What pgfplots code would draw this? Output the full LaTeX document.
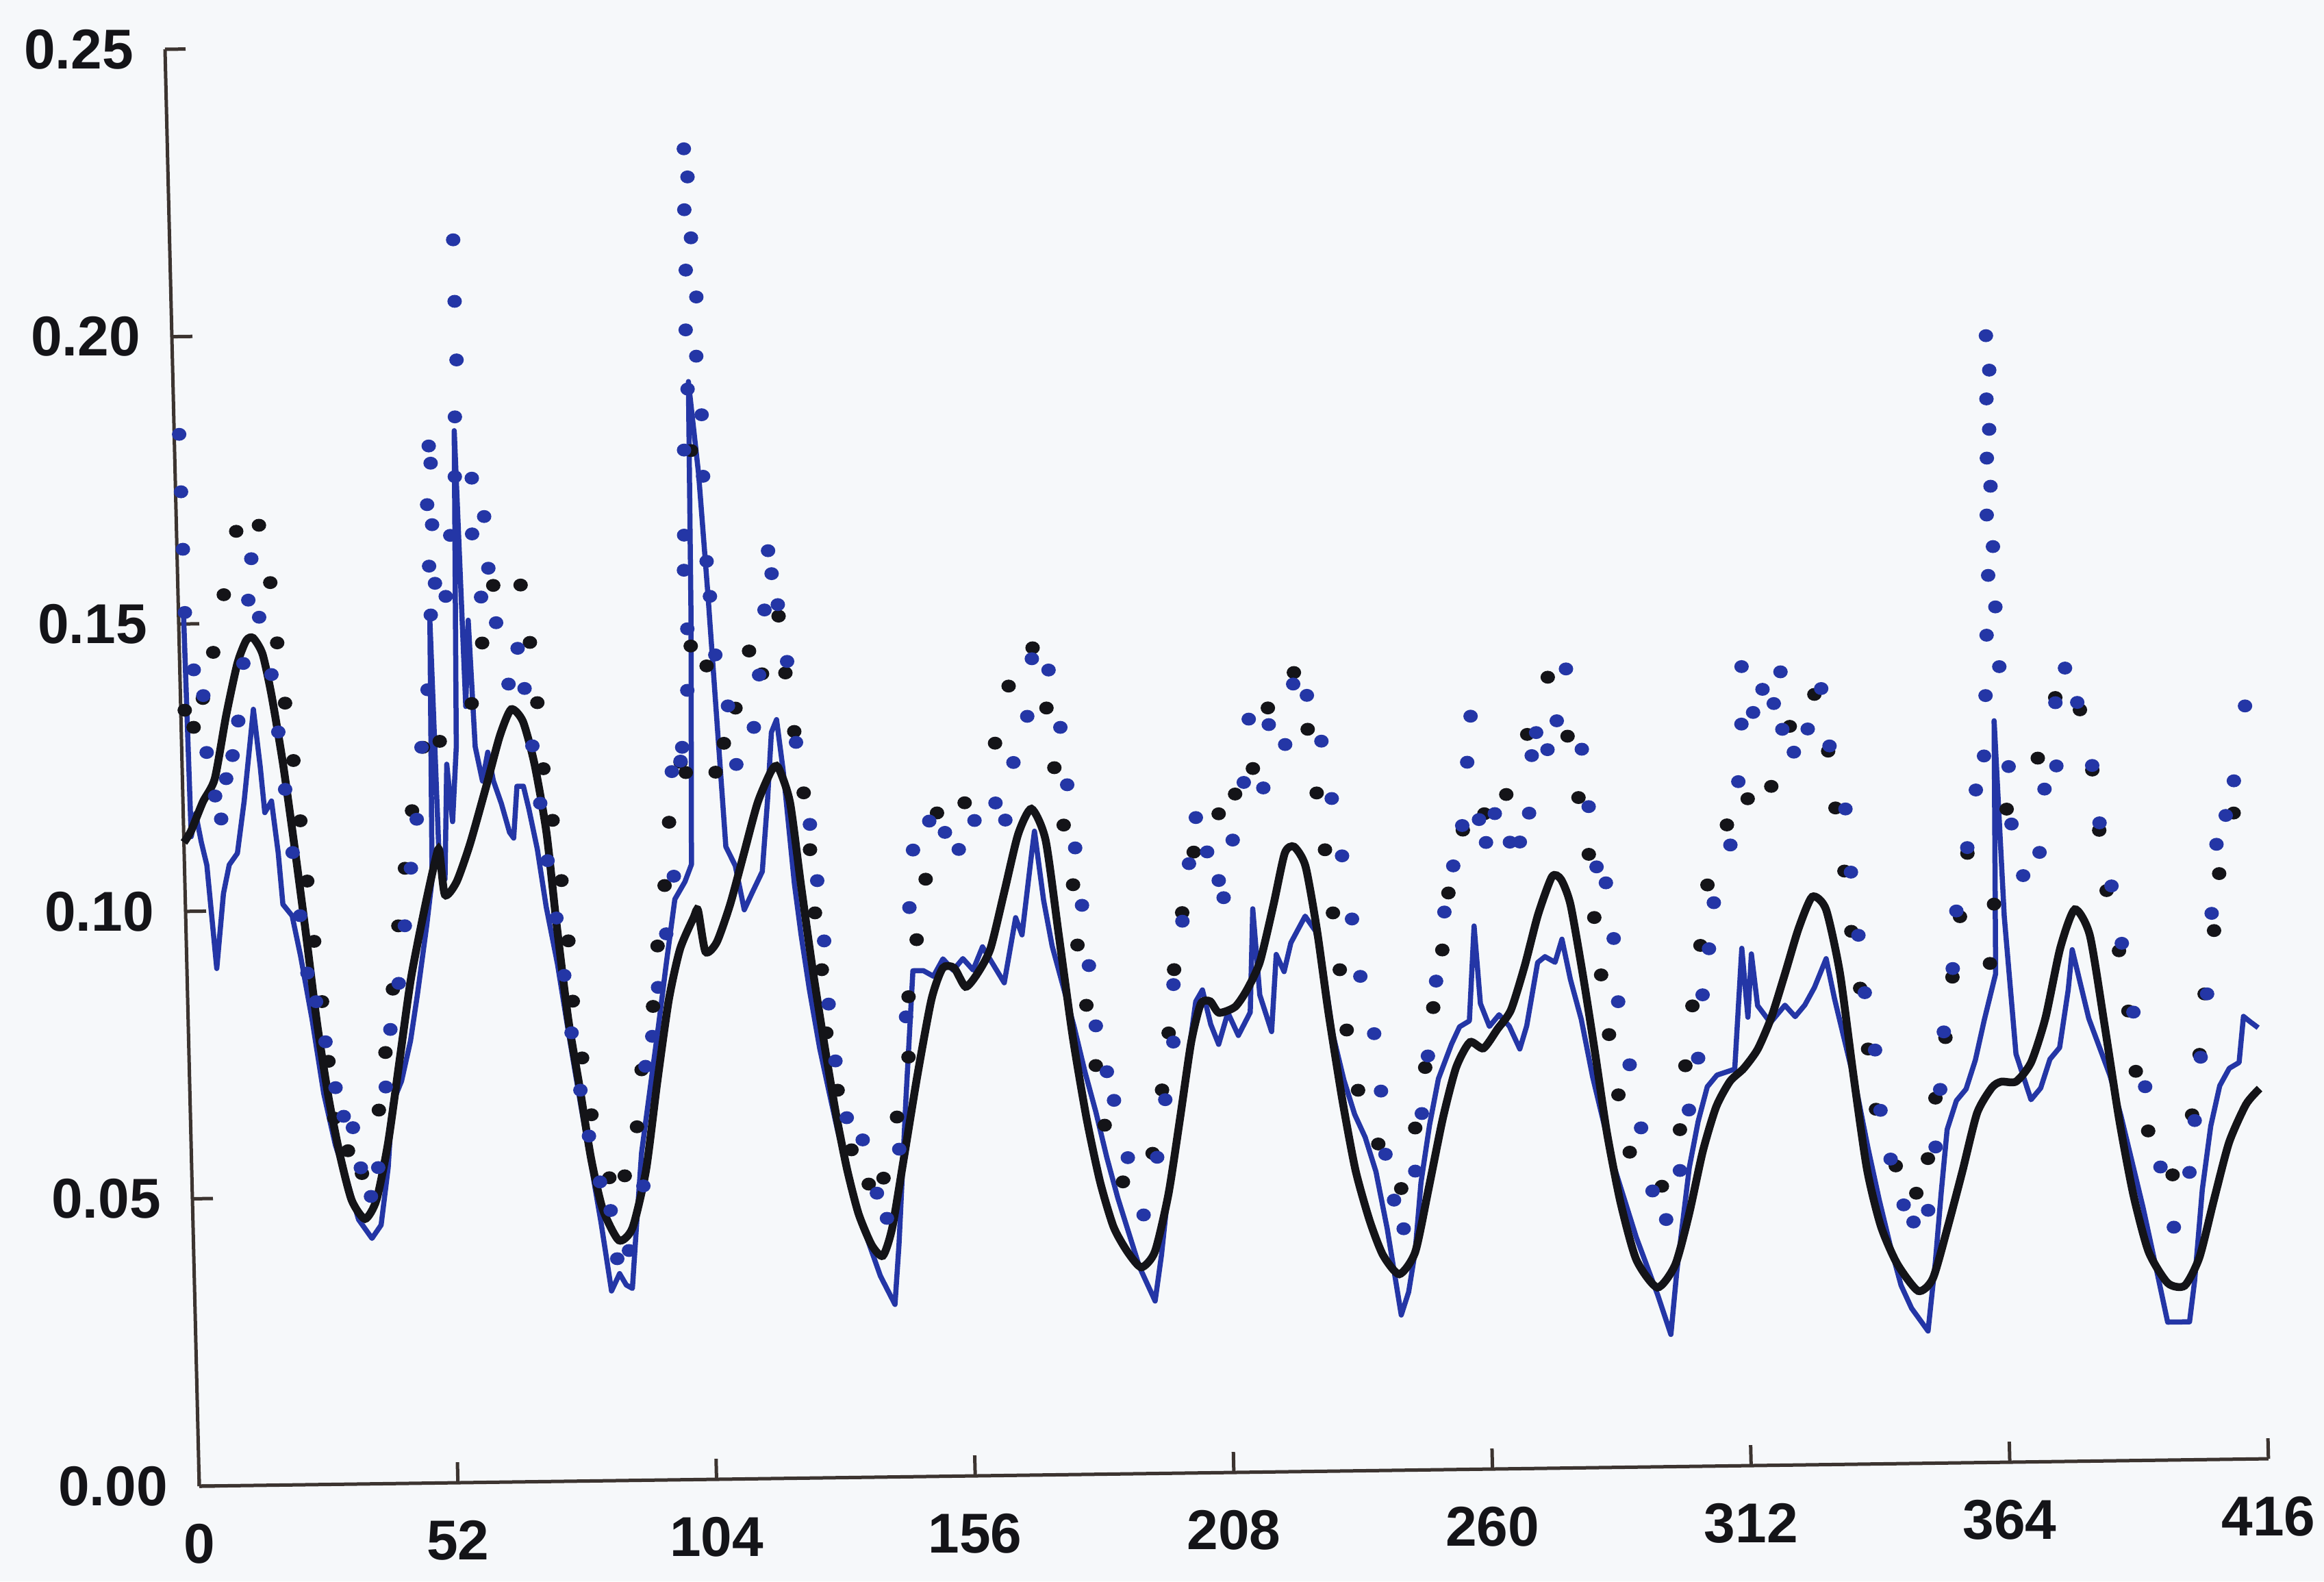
\documentclass[border=0pt]{standalone}
\usepackage{fontspec}
\setmainfont{Liberation Sans}
\usepackage{pgfplots}
\pgfplotsset{compat=1.18}
\usetikzlibrary{backgrounds}
\definecolor{bgc}{RGB}{246,248,250}
\definecolor{axc}{RGB}{60,52,48}
\definecolor{blc}{RGB}{36,54,166}
\definecolor{bkc}{RGB}{20,20,24}
\begin{document}
\begin{tikzpicture}
\begin{axis}[
  x={(0.7264pt,0.00962pt)}, y={(-20pt,839.2pt)},
  xmin=0, xmax=416, ymin=0, ymax=0.25,
  axis x line=bottom, axis y line=left,
  axis line style={-, draw=axc, line width=0.5pt},
  every outer x axis line/.append style={-},
  every outer y axis line/.append style={-},
  tick style={draw=axc, line width=0.5pt},
  tick align=inside, major tick length=3pt,
  xtick={0,52,104,156,208,260,312,364,416},
  ytick={0,0.05,0.1,0.15,0.2,0.25},
  scaled y ticks=false,
  /pgf/number format/assume math mode=true,
  ticklabel style={font=\bfseries\fontsize{8.2}{9}\selectfont, text=bkc},
  xticklabel style={anchor=north, yshift=-2pt},
  yticklabel style={anchor=east, xshift=-1.1pt, /pgf/number format/fixed, /pgf/number format/fixed zerofill, /pgf/number format/precision=2},
  clip=false,
]
\coordinate (O) at (axis cs:0,0);
% black dotted series (dots)
\addplot[only marks, mark=*, mark size=0.74pt, color=bkc, mark options={xscale=1.15}] table {
x y
0.8 0.135
2.5 0.132
4.5 0.137
6.8 0.145
9.2 0.155
12.0 0.166
16.6 0.167
18.6 0.157
19.7 0.1465
21.0 0.136
22.4 0.126
23.5 0.1155
24.6 0.105
25.7 0.0945
27.0 0.084
28.0 0.0736
28.9 0.0637
31.5 0.058
34.2 0.054
37.9 0.065
39.5 0.075
41.3 0.086
42.7 0.097
44.3 0.107
46.0 0.117
48.5 0.128
51.9 0.129
58.5 0.1355
60.9 0.146
63.4 0.156
68.9 0.156
70.5 0.146
71.7 0.1355
72.6 0.124
74.2 0.115
75.7 0.1045
76.8 0.094
77.4 0.0835
79.0 0.0736
80.6 0.0637
83.9 0.0527
87.0 0.053
89.7 0.0615
90.9 0.0714
93.5 0.0824
94.7 0.0929
96.4 0.1034
97.6 0.1144
100.2 0.1248
101.2 0.123
102.8 0.145
103.8 0.179
105.9 0.1415
107.2 0.123
109.0 0.128
111.5 0.1341
114.5 0.144
117.0 0.140
120.6 0.150
121.7 0.1401
123.2 0.1299
124.8 0.1192
125.8 0.1093
126.5 0.0983
127.6 0.0884
128.2 0.0774
130.2 0.0674
132.7 0.057
136.0 0.051
139.0 0.052
142.0 0.0626
144.6 0.073
144.9 0.0835
146.8 0.0934
148.9 0.1039
151.5 0.1154
157.1 0.1171
163.5 0.1274
166.5 0.1373
171.5 0.1439
174.0 0.1334
175.3 0.123
176.9 0.113
178.5 0.1026
179.1 0.0921
180.6 0.0816
182.2 0.0711
183.7 0.0607
187.1 0.0508
193.2 0.0557
195.4 0.0667
197.0 0.0766
198.4 0.0876
200.3 0.0975
202.9 0.108
208.1 0.1146
211.5 0.118
215.2 0.1224
218.5 0.1329
223.9 0.139
226.4 0.1291
227.9 0.118
229.3 0.1081
230.6 0.0971
231.7 0.0872
232.8 0.0767
234.8 0.0662
238.6 0.0568
243.0 0.049
246.1 0.0595
248.4 0.070
250.3 0.0804
252.4 0.0904
253.9 0.1003
257.1 0.1112
261.5 0.114
266.0 0.1173
270.5 0.1277
274.9 0.1376
278.6 0.1273
280.5 0.1166
282.3 0.1067
283.1 0.0957
284.2 0.0857
285.5 0.0753
287.1 0.0648
289.1 0.0548
295.4 0.0488
299.3 0.0586
300.7 0.0697
302.4 0.0801
304.3 0.0906
306.0 0.1011
310.2 0.1115
314.5 0.116
319.3 0.1181
323.3 0.1285
328.4 0.134
330.9 0.1241
332.1 0.1142
333.6 0.1032
334.7 0.0927
336.2 0.0828
337.5 0.0722
338.8 0.0617
342.5 0.0518
346.5 0.047
349.0 0.053
350.8 0.0635
353.1 0.074
354.8 0.0845
356.6 0.095
358.4 0.106
362.4 0.0868
363.5 0.0971
366.5 0.1136
373.0 0.1224
376.8 0.1329
381.7 0.1307
383.9 0.1202
385.0 0.1097
386.2 0.0992
388.4 0.0887
390.0 0.0782
391.2 0.0677
393.4 0.0573
398.1 0.0496
402.3 0.060
404.1 0.0705
405.4 0.081
407.6 0.092
408.9 0.1019
412.1 0.1124
};
% blue dotted series (dots)
\addplot[only marks, mark=*, mark size=0.74pt, color=blc, mark options={xscale=1.15}] table {
x y
1.0 0.183
1.1 0.173
1.2 0.163
1.3 0.152
2.8 0.142
4.6 0.1375
5.0 0.1276
6.5 0.120
7.6 0.116
8.8 0.123
10.2 0.127
11.5 0.133
12.8 0.143
14.1 0.154
14.9 0.1612
16.2 0.151
18.4 0.141
19.5 0.131
20.6 0.121
21.8 0.110
23.0 0.099
24.2 0.089
25.8 0.084
27.5 0.077
29.3 0.069
30.8 0.064
32.6 0.062
34.0 0.055
35.9 0.050
37.5 0.055
39.4 0.069
40.6 0.079
42.5 0.087
44.0 0.097
45.5 0.107
46.9 0.1155
48.2 0.128
49.7 0.138
50.7 0.151
50.6 0.1595
51.4 0.1667
50.5 0.1702
51.4 0.1774
51.1 0.1804
51.7 0.1565
53.8 0.1542
55.0 0.1648
56.2 0.1750
56.5 0.1854
57.1 0.1953
57.0 0.2055
57.0 0.2162
59.4 0.165
59.6 0.1747
60.9 0.154
61.9 0.168
62.5 0.159
63.8 0.1495
66.0 0.1388
68.0 0.145
69.2 0.138
70.5 0.128
71.8 0.118
73.0 0.108
74.5 0.098
75.8 0.088
77.0 0.078
78.5 0.068
80.0 0.060
82.0 0.052
84.0 0.047
85.1 0.0386
87.5 0.040
90.7 0.0512
91.7 0.072
93.2 0.0772
94.6 0.0857
96.5 0.095
98.3 0.105
98.4 0.1232
100.2 0.125
100.6 0.1274
101.9 0.1373
102.2 0.148
101.8 0.1582
102.0 0.1643
102.4 0.1791
103.4 0.1897
103.3 0.2000
103.6 0.2104
103.6 0.2209
103.8 0.2315
104.4 0.2266
104.8 0.2160
105.6 0.2057
105.3 0.1954
106.1 0.1852
106.1 0.1745
106.4 0.1597
106.9 0.1536
107.7 0.1434
110.0 0.1345
111.4 0.1243
115.1 0.1307
116.4 0.1398
117.8 0.1511
118.8 0.1614
119.4 0.1574
120.5 0.1520
122.1 0.1421
123.5 0.128
125.9 0.1137
127.1 0.1039
128.2 0.0934
128.8 0.0824
129.9 0.0725
131.9 0.0626
135.0 0.0587
137.6 0.0494
139.5 0.045
142.3 0.057
144.3 0.080
145.5 0.099
146.5 0.109
149.9 0.114
153.0 0.112
155.7 0.109
159.0 0.114
163.3 0.117
165.2 0.114
167.1 0.124
170.1 0.132
171.3 0.142
174.6 0.140
176.7 0.130
177.8 0.120
179.1 0.109
180.2 0.099
181.3 0.0885
182.4 0.078
184.4 0.070
185.7 0.065
188.2 0.055
191.1 0.045
194.1 0.055
196.0 0.065
197.9 0.075
198.2 0.085
200.3 0.096
201.9 0.106
203.5 0.114
205.6 0.108
207.8 0.103
208.7 0.100
210.8 0.110
213.3 0.120
214.6 0.131
217.2 0.119
218.6 0.130
221.8 0.1265
223.7 0.137
226.4 0.135
229.1 0.127
230.9 0.117
232.7 0.107
234.4 0.096
235.8 0.086
238.3 0.076
239.4 0.066
240.0 0.055
241.5 0.047
243.3 0.042
245.9 0.052
247.5 0.062
249.0 0.072
251.0 0.085
253.0 0.097
255.0 0.105
257.0 0.112
258.3 0.123
259.2 0.131
260.4 0.113
261.7 0.109
263.6 0.114
266.5 0.109
268.5 0.109
270.5 0.114
271.3 0.124
272.3 0.128
274.5 0.125
276.5 0.130
278.6 0.139
281.4 0.125
282.5 0.115
283.8 0.1045
285.6 0.1017
286.9 0.092
287.5 0.081
289.5 0.070
291.5 0.059
293.5 0.048
296.1 0.043
299.1 0.0515
301.2 0.062
303.3 0.071
304.5 0.082
306.0 0.090
307.2 0.098
310.8 0.108
312.7 0.119
313.6 0.129
313.9 0.139
316.0 0.131
318.0 0.135
320.2 0.1325
321.7 0.138
321.8 0.128
324.0 0.124
326.9 0.128
329.8 0.135
331.2 0.125
334.1 0.114
334.9 0.103
336.1 0.092
337.1 0.082
338.9 0.072
339.7 0.0615
341.5 0.053
343.9 0.045
345.8 0.042
348.8 0.044
350.6 0.055
351.8 0.065
352.8 0.075
354.9 0.086
355.9 0.096
358.4 0.107
360.4 0.117
362.2 0.1229
362.8 0.1334
363.3 0.1439
363.9 0.1543
363.9 0.1648
364.2 0.1747
364.4 0.185
364.6 0.196
365.1 0.190
364.8 0.1797
364.8 0.1698
365.0 0.1593
365.2 0.1488
365.7 0.1384
367.1 0.121
367.4 0.111
369.5 0.102
372.9 0.106
374.2 0.117
376.7 0.121
376.8 0.132
378.9 0.138
381.2 0.132
383.9 0.121
385.1 0.111
387.2 0.100
389.0 0.090
391.0 0.078
393.0 0.065
395.7 0.051
398.1 0.0405
401.5 0.050
402.8 0.059
404.3 0.070
405.9 0.081
407.2 0.095
408.5 0.107
410.5 0.112
412.3 0.118
414.9 0.131
};
% blue solid line
\addplot[color=blc, line width=0.75pt, line join=round] table {
x y
1.0 0.153
1.5 0.113
2.5 0.117
3.5 0.112
4.5 0.108
6.0 0.090
7.7 0.103
9.0 0.108
10.7 0.110
12.3 0.119
14.6 0.135
15.7 0.125
16.4 0.117
17.8 0.119
18.9 0.110
19.6 0.101
21.4 0.099
22.9 0.092
24.9 0.081
26.9 0.068
29.0 0.059
31.1 0.053
33.3 0.046
35.9 0.0427
37.8 0.045
39.5 0.055
40.6 0.066
42.6 0.070
44.6 0.077
46.2 0.085
48.4 0.097
49.7 0.105
50.5 0.150
51.2 0.110
52.3 0.105
53.2 0.125
54.1 0.115
55.2 0.128
56.3 0.183
57.3 0.135
58.2 0.150
59.0 0.128
60.3 0.122
61.5 0.127
62.5 0.122
64.0 0.118
65.5 0.113
66.3 0.112
67.2 0.121
68.5 0.121
69.5 0.117
71.0 0.110
72.5 0.100
74.5 0.090
76.4 0.078
78.4 0.066
80.3 0.055
82.0 0.045
83.8 0.033
85.5 0.036
86.8 0.034
88.0 0.0334
89.2 0.045
90.5 0.057
92.5 0.068
94.5 0.079
96.4 0.090
98.4 0.101
100.5 0.104
101.9 0.107
103.0 0.150
103.6 0.191
105.2 0.175
106.5 0.154
107.7 0.132
108.9 0.110
110.7 0.1067
112.3 0.099
114.0 0.102
116.1 0.1056
117.5 0.118
118.6 0.1298
119.7 0.132
120.8 0.123
122.5 0.1034
123.6 0.0945
125.0 0.085
126.8 0.0747
128.5 0.067
130.0 0.0604
132.9 0.0494
135.4 0.0416
137.9 0.035
140.7 0.030
141.8 0.0405
143.9 0.0659
145.9 0.088
148.0 0.088
150.0 0.087
152.0 0.090
154.0 0.088
156.0 0.090
158.0 0.088
160.0 0.092
162.0 0.089
164.2 0.0857
166.8 0.097
168.0 0.094
170.3 0.108
171.0 0.112
172.5 0.100
174.0 0.092
176.0 0.085
178.0 0.078
180.0 0.070
182.0 0.063
184.0 0.055
186.0 0.048
188.0 0.042
190.0 0.036
193.0 0.030
194.5 0.038
196.0 0.048
198.0 0.058
200.0 0.068
202.6 0.082
204.0 0.084
205.5 0.078
207.0 0.0745
209.0 0.080
211.0 0.076
213.5 0.080
214.5 0.098
215.5 0.083
217.7 0.0766
219.0 0.090
220.5 0.087
222.0 0.092
225.0 0.0966
227.0 0.094
228.5 0.087
230.0 0.076
232.0 0.068
234.0 0.062
236.0 0.058
238.0 0.052
240.0 0.042
242.4 0.027
244.0 0.031
245.5 0.038
247.0 0.050
249.0 0.060
251.0 0.068
253.8 0.074
255.5 0.077
257.5 0.078
258.9 0.0945
259.8 0.081
261.5 0.077
263.5 0.079
265.5 0.077
267.5 0.073
269.0 0.077
271.5 0.088
273.0 0.089
275.0 0.088
276.5 0.092
278.0 0.085
280.0 0.078
282.0 0.068
284.0 0.060
286.0 0.052
288.0 0.046
290.0 0.040
292.0 0.035
294.0 0.030
296.5 0.023
298.0 0.034
299.5 0.043
301.0 0.052
303.0 0.060
305.0 0.066
307.0 0.068
310.6 0.069
312.6 0.090
313.5 0.078
314.5 0.089
315.5 0.080
318.0 0.077
321.0 0.080
323.0 0.078
325.0 0.080
327.0 0.083
329.5 0.088
331.0 0.081
333.0 0.073
335.0 0.065
337.0 0.055
339.0 0.046
341.0 0.038
343.0 0.031
345.0 0.027
348.2 0.023
350.0 0.035
351.5 0.047
353.0 0.058
355.0 0.063
357.0 0.065
359.0 0.070
361.0 0.077
363.5 0.085
364.4 0.129
365.5 0.095
367.2 0.071
370.0 0.063
372.0 0.065
374.0 0.070
376.0 0.072
378.0 0.082
379.0 0.089
380.5 0.083
382.0 0.077
384.0 0.072
386.0 0.067
388.0 0.060
390.0 0.052
392.0 0.044
394.0 0.035
396.4 0.024
400.8 0.024
402.0 0.031
404.0 0.047
406.0 0.058
408.0 0.065
410.0 0.068
412.0 0.069
413.1 0.077
414.5 0.076
416.0 0.075
};
% black solid (model) line
\addplot[color=bkc, line width=1.15pt, smooth, tension=0.4] table {
x y
0 0.112
1.5 0.114
4 0.119
6.5 0.123
9.1 0.134
11.6 0.143
13.5 0.147
14.9 0.1474
16.7 0.1446
18.3 0.1375
20.3 0.1254
22.2 0.1111
24.1 0.0957
25.9 0.0802
27.9 0.0670
29.9 0.0571
32.0 0.0494
34.6 0.0461
37.0 0.0494
39.6 0.0593
42.3 0.0736
45.0 0.0879
48.1 0.1001
50.6 0.1089
51.3 0.1100
52.2 0.1023
54.6 0.1045
57.5 0.1111
61.0 0.1210
64.0 0.1298
66.4 0.1344
68.7 0.1323
70.8 0.1250
72.9 0.1130
74.5 0.0970
76.4 0.0804
78.4 0.0683
80.3 0.0562
82.4 0.0473
85.5 0.0418
88.3 0.0439
91.3 0.0539
94.0 0.0693
96.7 0.0835
99.2 0.0923
102.1 0.0978
103.0 0.0990
104.3 0.0918
106.6 0.0934
109.5 0.1000
112.5 0.1088
115.5 0.1176
118.4 0.1231
119.8 0.1237
122.0 0.1176
123.8 0.1033
125.7 0.0889
127.7 0.0757
129.7 0.0636
131.7 0.0537
133.8 0.0459
136.3 0.0404
138.5 0.0385
140.5 0.0433
143.2 0.0555
146.3 0.0698
149.5 0.0830
151.9 0.0884
154.2 0.0884
156.4 0.0851
158.8 0.0873
161.6 0.0917
164.7 0.1017
167.7 0.1115
170.5 0.1159
173.2 0.1104
175.4 0.0938
177.7 0.0762
180.1 0.0619
182.5 0.0509
185.0 0.0430
187.7 0.0386
190.4 0.0359
193.2 0.0386
196.2 0.0486
198.9 0.0618
201.5 0.0750
203.6 0.0816
205.5 0.0820
207.2 0.0800
210.5 0.0810
213.0 0.0840
215.7 0.0888
218.7 0.0987
221.2 0.1076
223.1 0.1087
225.3 0.1053
227.3 0.0942
229.2 0.0799
231.6 0.0645
233.9 0.0523
236.5 0.0435
239.0 0.0375
242.2 0.0341
245.5 0.0379
248.5 0.0489
251.7 0.0611
254.6 0.0699
257.5 0.0743
260.2 0.0732
263.1 0.0765
265.9 0.0798
268.9 0.0875
271.8 0.0963
274.8 0.1029
276.6 0.1024
278.4 0.0979
280.7 0.0847
282.7 0.0715
284.6 0.0583
287.0 0.0461
289.9 0.0361
294.0 0.0312
297.7 0.0351
300.7 0.0438
303.8 0.0548
306.7 0.0625
309.6 0.0669
312.4 0.0691
315.3 0.0724
318.2 0.0779
321.2 0.0856
324.1 0.0933
327.0 0.0988
329.7 0.0966
332.2 0.0855
334.4 0.0679
336.7 0.0513
339.2 0.0414
342.3 0.0348
346.4 0.0300
349.4 0.0321
352.6 0.0409
355.9 0.0508
359.1 0.0608
362.2 0.0652
364.1 0.0662
367.1 0.0662
370.2 0.0695
373.3 0.0772
376.6 0.0893
379.7 0.0960
382.6 0.0915
385.1 0.0761
387.6 0.0595
390.1 0.0463
392.9 0.0363
396.6 0.0308
400.0 0.0303
403.1 0.0352
406.3 0.0452
409.6 0.0551
413.2 0.0617
416.0 0.0644
};
\end{axis}
\begin{scope}[on background layer]
\fill[bgc] (O) ++(-29.1pt,-13.9pt) rectangle ++(339.4pt,230.9pt);
\end{scope}
\pgfresetboundingbox
\path[use as bounding box] (O) ++(-29.1pt,-13.9pt) rectangle ++(339.4pt,230.9pt);
\end{tikzpicture}
\end{document}
